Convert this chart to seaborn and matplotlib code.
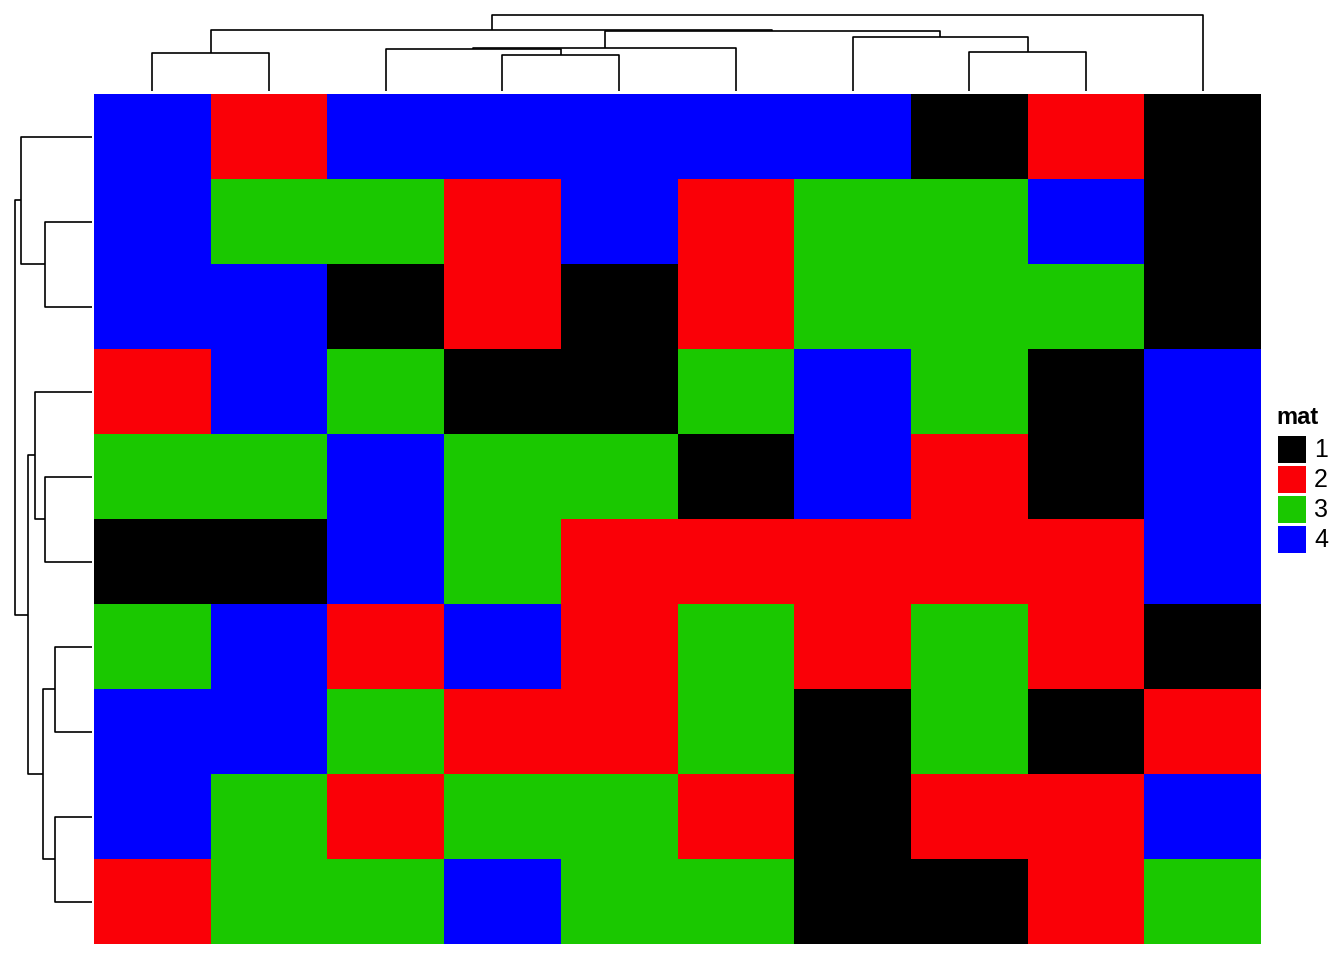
import matplotlib
matplotlib.use("Agg")
import matplotlib.pyplot as plt
from matplotlib.colors import ListedColormap
from matplotlib.patches import Rectangle
import seaborn as sns
import numpy as np

sns.set_theme(style="white")
plt.rcParams['font.family'] = ['Liberation Sans', 'DejaVu Sans']
plt.rcParams['text.color'] = 'black'

# 行列の値 (1..4), 表示順に並べ替え済み
mat = np.array([
    [4, 2, 4, 4, 4, 4, 4, 1, 2, 1],
    [4, 3, 3, 2, 4, 2, 3, 3, 4, 1],
    [4, 4, 1, 2, 1, 2, 3, 3, 3, 1],
    [2, 4, 3, 1, 1, 3, 4, 3, 1, 4],
    [3, 3, 4, 3, 3, 1, 4, 2, 1, 4],
    [1, 1, 4, 3, 2, 2, 2, 2, 2, 4],
    [3, 4, 2, 4, 2, 3, 2, 3, 2, 1],
    [4, 4, 3, 2, 2, 3, 1, 3, 1, 2],
    [4, 3, 2, 3, 3, 2, 1, 2, 2, 4],
    [2, 3, 3, 4, 3, 3, 1, 1, 2, 3],
])
levels = ["1", "2", "3", "4"]
level_colors = ["#000000", "#FA0007", "#1AC800", "#0000FF"]

# 樹形図 (子a, 子b, 高さ) -- 葉は0..9, 結合ノードは10から
col_merges = [(3, 4, 36.0), (0, 1, 37.7), (7, 8, 39.3), (2, 10, 42.0),
              (13, 5, 43.3), (6, 12, 54.3), (14, 15, 60.0), (11, 16, 61.0),
              (17, 9, 76.3)]
row_merges = [(1, 2, 47.0), (4, 5, 47.0), (6, 7, 37.0), (8, 9, 37.0),
              (0, 10, 71.3), (3, 11, 57.0), (12, 13, 48.7), (15, 16, 64.3),
              (14, 17, 77.3)]

W, H = 1344, 960
fig = plt.figure(figsize=(W / 100, H / 100), dpi=100)


def px_axes(x0, y0, x1, y1):
    return fig.add_axes([x0 / W, 1 - y1 / H, (x1 - x0) / W, (y1 - y0) / H])


# ヒートマップ
ax_hm = px_axes(94, 94, 1261, 944)
sns.heatmap(mat, cmap=ListedColormap(level_colors), vmin=0.5, vmax=4.5,
            cbar=False, xticklabels=False, yticklabels=False,
            linewidths=0, ax=ax_hm)


def draw_dendro(ax, merges, n, vertical):
    pos = {i: i + 0.5 for i in range(n)}
    hgt = {i: 0.0 for i in range(n)}
    for k, (a, b, h) in enumerate(merges):
        xs = [pos[a], pos[a], pos[b], pos[b]]
        ys = [hgt[a], h, h, hgt[b]]
        if vertical:
            ax.plot(xs, ys, color="black", lw=1.2, clip_on=False,
                    solid_capstyle="butt")
        else:
            ax.plot(ys, xs, color="black", lw=1.2, clip_on=False,
                    solid_capstyle="butt")
        pos[n + k] = (pos[a] + pos[b]) / 2
        hgt[n + k] = h
    ax.axis("off")


# 列の樹形図
ax_top = px_axes(94, 14, 1261, 91)
draw_dendro(ax_top, col_merges, 10, True)
ax_top.set_xlim(0, 10)
ax_top.set_ylim(0, 77)

# 行の樹形図
ax_left = px_axes(14, 94, 92, 944)
draw_dendro(ax_left, row_merges, 10, False)
ax_left.set_xlim(78, 0)
ax_left.set_ylim(10, 0)

# 凡例
ax_lg = px_axes(1270, 395, 1344, 565)
ax_lg.set_xlim(1270, 1344)
ax_lg.set_ylim(565, 395)
ax_lg.axis("off")
ax_lg.text(1276, 424, "mat", fontsize=17, fontweight="bold",
           va="baseline", color="black")
for i, (lab, col) in enumerate(zip(levels, level_colors)):
    y0 = 436 + 30 * i
    ax_lg.add_patch(Rectangle((1278, y0), 27.5, 27.5, facecolor=col,
                              edgecolor="none"))
    ax_lg.text(1314, y0 + 14, lab, fontsize=18, va="center", color="black")

fig.savefig("out.png", dpi=100)
